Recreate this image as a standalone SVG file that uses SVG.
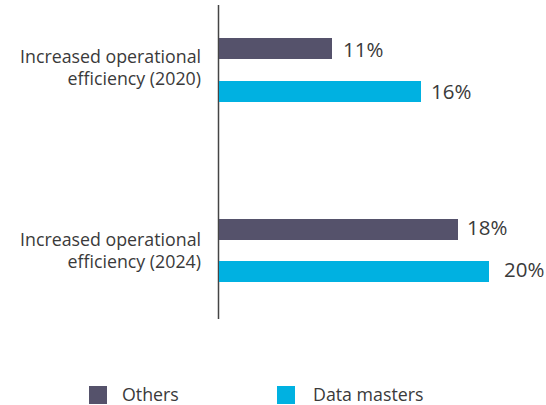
<svg xmlns="http://www.w3.org/2000/svg" width="546" height="405" viewBox="0 0 546 405">
<style>
text{font-family:"Open Sans","Noto Sans",sans-serif;font-weight:400;fill:#3a3a3a}
.lbl{font-size:17.8px;text-anchor:end}
.val{font-size:20.5px}
.leg{font-size:17.8px}
.oth{fill:#55526b}
.dm{fill:#00b1e1}
</style>
<rect width="546" height="405" fill="#ffffff"/>
<g id="axis"><line x1="218.5" y1="5" x2="218.5" y2="319" stroke="#444" stroke-width="1.5"/></g>
<g id="cat2020">
<text class="lbl" x="201" y="63">Increased operational</text>
<text class="lbl" x="201" y="85">efficiency (2020)</text>
</g>
<g id="bar-others-2020"><rect class="oth" x="219" y="38" width="113" height="21"/><text class="val" x="343" y="57">11%</text></g>
<g id="bar-dm-2020"><rect class="dm" x="219" y="81" width="202" height="21"/><text class="val" x="431" y="99">16%</text></g>
<g id="cat2024">
<text class="lbl" x="201" y="246">Increased operational</text>
<text class="lbl" x="201" y="268">efficiency (2024)</text>
</g>
<g id="bar-others-2024"><rect class="oth" x="219" y="219" width="239" height="21"/><text class="val" x="467" y="235">18%</text></g>
<g id="bar-dm-2024"><rect class="dm" x="219" y="261" width="270" height="21"/><text class="val" x="504" y="277">20%</text></g>
<g id="legend-others"><rect class="oth" x="89" y="386" width="18" height="18"/><text class="leg" x="122" y="401">Others</text></g>
<g id="legend-dm"><rect class="dm" x="277" y="386" width="18" height="18"/><text class="leg" x="313" y="401">Data masters</text></g>
</svg>
